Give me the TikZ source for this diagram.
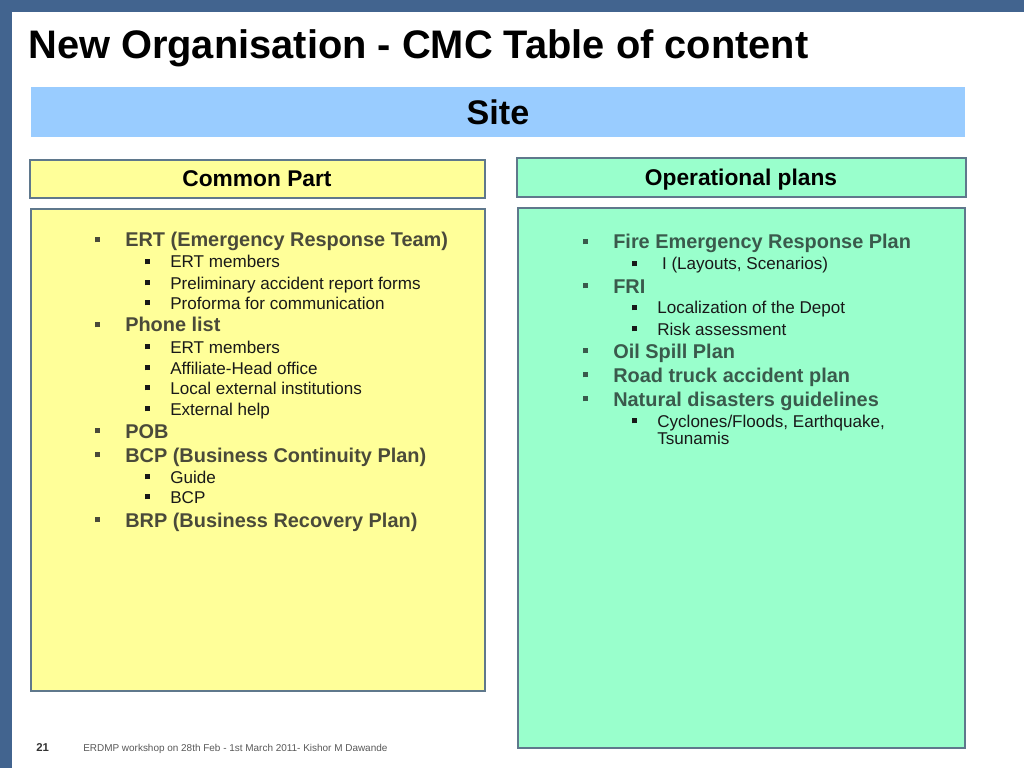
\documentclass[tikz,border=0pt]{standalone}
\usepackage{fontspec}
\setmainfont{Liberation Sans}
\usepackage{tikz}
\definecolor{frameblue}{RGB}{66,100,143}
\definecolor{siteblue}{RGB}{153,204,255}
\definecolor{partyellow}{RGB}{255,255,153}
\definecolor{plangreen}{RGB}{153,255,204}
\definecolor{boxline}{RGB}{95,120,140}
\definecolor{olivetext}{RGB}{74,74,58}
\definecolor{greentext}{RGB}{58,90,76}
\newcommand{\sqa}{\makebox[21.1pt][l]{\rule[3.2pt]{3.5pt}{3.5pt}}}
\newcommand{\sqb}{\makebox[17.6pt][l]{\rule[2.6pt]{3.4pt}{3.4pt}}}
\tikzstyle{head} = [inner sep=0pt, font=\bfseries\fontsize{16}{19}\selectfont]
\tikzstyle{lvla} = [anchor=base west, inner sep=0pt, font=\bfseries\fontsize{14}{17}\selectfont]
\tikzstyle{lvlb} = [anchor=base west, inner sep=0pt, font=\fontsize{12}{12}\selectfont, text=black!90]
\tikzstyle{panel} = [draw=boxline, line width=0.8pt]
\begin{document}
\begin{tikzpicture}[x=0.703125pt,y=-0.703125pt]
	  \useasboundingbox (0,0) rectangle (1024,768);
	  \fill [white] (0,0) rectangle (1024,768);
	  \fill [frameblue] (0,0) rectangle (1024,12);
	  \fill [frameblue] (0,0) rectangle (12,768);

	  \node (t) at (28,59) [anchor=base west, inner sep=0pt, font=\bfseries\fontsize{28}{34}\selectfont] {New Organisation - CMC Table of content};

	  \fill [siteblue] (31,87) rectangle (965,137);
	  \node (s) at (498,112) [inner sep=0pt, font=\bfseries\fontsize{24}{29}\selectfont] {Site};

	  \draw [panel, fill=partyellow] (30,160) rectangle (485,198);
	  \draw [panel, fill=plangreen] (517,158) rectangle (966,197);
	  \draw [panel, fill=partyellow] (31,209) rectangle (485,691);
	  \draw [panel, fill=plangreen] (518,208) rectangle (965,748);

	  \node (cp) at (257,187) [head, anchor=base] {Common Part};
	  \node (op) at (741,186) [head, anchor=base] {Operational plans};

	  \node (a) at (95,247) [lvla, text=olivetext] {\sqa ERT (Emergency Response Team)};
	  \node (b) at (145,268) [lvlb] {\sqb ERT members};
	  \node (c) at (145,289) [lvlb] {\sqb Preliminary accident report forms};
	  \node (d) at (145,309) [lvlb] {\sqb Proforma for communication};
	  \node (e) at (95,332) [lvla, text=olivetext] {\sqa Phone list};
	  \node (f) at (145,353) [lvlb] {\sqb ERT members};
	  \node (g) at (145,374) [lvlb] {\sqb Affiliate-Head office};
	  \node (h) at (145,394) [lvlb] {\sqb Local external institutions};
	  \node (i) at (145,415) [lvlb] {\sqb External help};
	  \node (j) at (95,438) [lvla, text=olivetext] {\sqa POB};
	  \node (k) at (95,462) [lvla, text=olivetext] {\sqa BCP (Business Continuity Plan)};
	  \node (l) at (145,483) [lvlb] {\sqb Guide};
	  \node (m) at (145,503) [lvlb] {\sqb BCP};
	  \node (n) at (95,527) [lvla, text=olivetext] {\sqa BRP (Business Recovery Plan)};

	  \node (o) at (583,249) [lvla, text=greentext] {\sqa Fire Emergency Response Plan};
	  \node (p) at (632,270) [lvlb] {\sqb \ I (Layouts, Scenarios)};
	  \node (q) at (583,293) [lvla, text=greentext] {\sqa FRI};
	  \node (r) at (632,314) [lvlb] {\sqb Localization of the Depot};
	  \node (u) at (632,335) [lvlb] {\sqb Risk assessment};
	  \node (v) at (583,358) [lvla, text=greentext] {\sqa Oil Spill Plan};
	  \node (w) at (583,382) [lvla, text=greentext] {\sqa Road truck accident plan};
	  \node (x) at (583,406) [lvla, text=greentext] {\sqa Natural disasters guidelines};
	  \node (y) at (632,427) [lvlb] {\sqb\begin{tabular}[t]{@{}l@{}}Cyclones/Floods, Earthquake,\\Tsunamis\end{tabular}};

	  \node (pg) at (36,751) [anchor=base west, inner sep=0pt, font=\bfseries\fontsize{8}{10}\selectfont, text=black!80] {21};
	  \node (ft) at (83,751) [anchor=base west, inner sep=0pt, font=\fontsize{7}{9}\selectfont, text=black!65] {ERDMP workshop on 28th Feb - 1st March 2011- Kishor M Dawande};
	\end{tikzpicture}
\end{document}
